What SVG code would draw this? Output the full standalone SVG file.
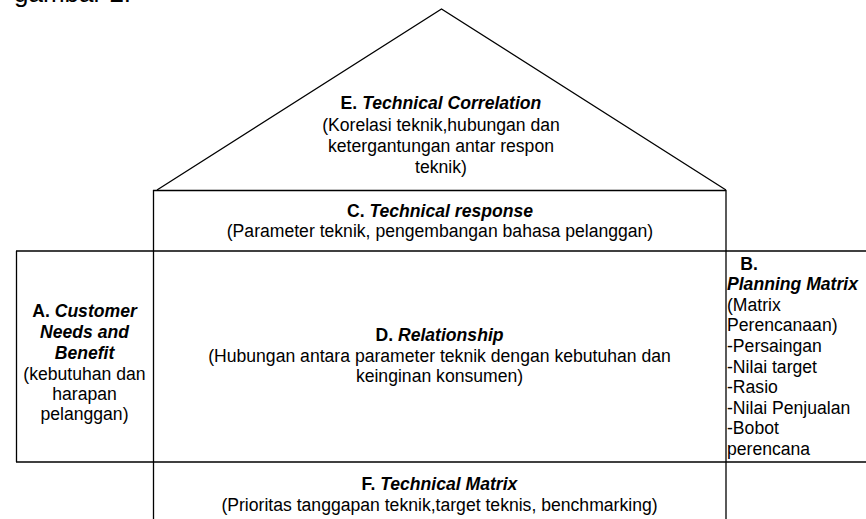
<svg xmlns="http://www.w3.org/2000/svg" width="866" height="519" viewBox="0 0 866 519">
<style>
text{font-family:"Liberation Sans",Arial,sans-serif;font-size:17.6px;fill:#000}
.c{text-anchor:middle}
.b{font-weight:bold}
.bi{font-weight:bold;font-style:italic}
.ln{stroke:#000;stroke-width:1.3;fill:none}
</style>
<rect width="866" height="519" fill="#fff"/>
<text x="14" y="2" style="font-size:26px">gambar 2.</text>
<g id="connectors">
<polyline class="ln" points="157,190 441.5,9 726,190"/>
<line class="ln" x1="153" y1="190.5" x2="726" y2="190.5"/>
<line class="ln" x1="16" y1="251" x2="866" y2="251"/>
<line class="ln" x1="16" y1="462" x2="866" y2="462"/>
<line class="ln" x1="153.5" y1="190" x2="153.5" y2="519"/>
<line class="ln" x1="726" y1="190" x2="726" y2="519"/>
<line class="ln" x1="16.5" y1="251" x2="16.5" y2="462"/>
</g>
<g id="nodeE">
<text class="c b" x="441" y="109">E. <tspan class="bi">Technical Correlation</tspan></text>
<text class="c" x="441" y="131">(Korelasi teknik,hubungan dan</text>
<text class="c" x="441" y="152">ketergantungan antar respon</text>
<text class="c" x="441" y="173">teknik)</text>
</g>
<g id="nodeC">
<text class="c b" x="440" y="217">C. <tspan class="bi">Technical response</tspan></text>
<text class="c" x="440" y="237">(Parameter teknik, pengembangan bahasa pelanggan)</text>
</g>
<g id="nodeA">
<text class="c b" x="84.5" y="317">A. <tspan class="bi">Customer</tspan></text>
<text class="c bi" x="84.5" y="338">Needs and</text>
<text class="c bi" x="84.5" y="359">Benefit</text>
<text class="c" x="84.5" y="380">(kebutuhan dan</text>
<text class="c" x="84.5" y="400">harapan</text>
<text class="c" x="84.5" y="420">pelanggan)</text>
</g>
<g id="nodeD">
<text class="c b" x="439.5" y="341">D. <tspan class="bi">Relationship</tspan></text>
<text class="c" x="439.5" y="362">(Hubungan antara parameter teknik dengan kebutuhan dan</text>
<text class="c" x="439.5" y="382">keinginan konsumen)</text>
</g>
<g id="nodeB">
<text class="c b" x="749" y="270">B.</text>
<text class="bi" x="727" y="290">Planning Matrix</text>
<text x="727" y="311">(Matrix</text>
<text x="727" y="331">Perencanaan)</text>
<text x="727" y="352">-Persaingan</text>
<text x="727" y="373">-Nilai target</text>
<text x="727" y="393">-Rasio</text>
<text x="727" y="414">-Nilai Penjualan</text>
<text x="727" y="434">-Bobot</text>
<text x="727" y="455">perencana</text>
</g>
<g id="nodeF">
<text class="c b" x="439.5" y="490">F. <tspan class="bi">Technical Matrix</tspan></text>
<text class="c" x="439.5" y="511">(Prioritas tanggapan teknik,target teknis, benchmarking)</text>
</g>
</svg>
